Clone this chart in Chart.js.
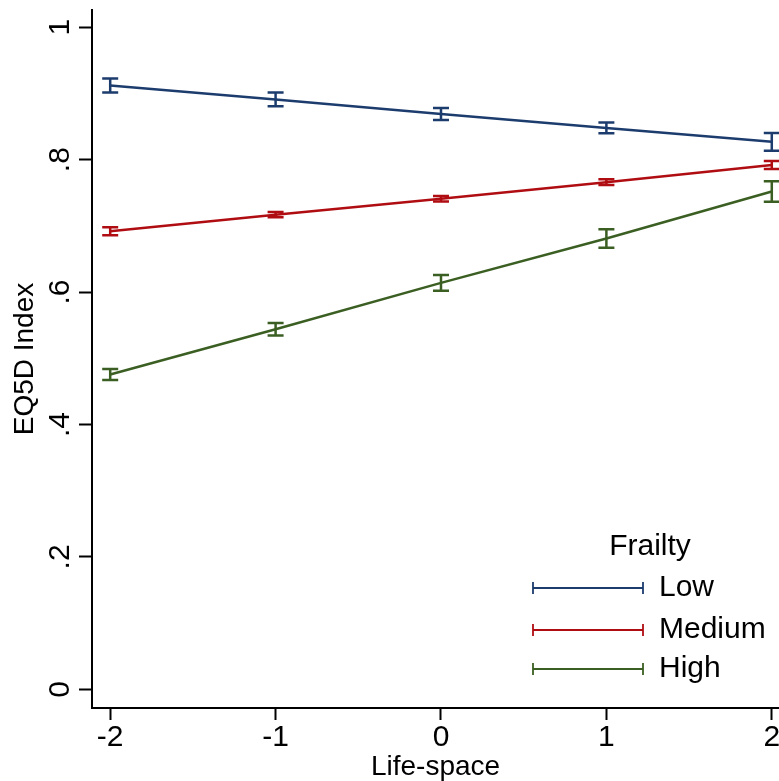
<!DOCTYPE html>
<html>
<head>
<meta charset="utf-8">
<script src="https://cdn.jsdelivr.net/npm/chart.js@4/dist/chart.umd.min.js"></script>
<style>
html,body{margin:0;padding:0;background:#fff;}
#wrap{width:779px;height:781px;position:relative;}
</style>
</head>
<body>
<div id="wrap"><canvas id="c" width="779" height="781"></canvas></div>
<script>
const lifeSpace = [-2, -1, 0, 1, 2];
const xTicks = [-2, -1, 0, 1, 2];
const yTicks = [0, 0.2, 0.4, 0.6, 0.8, 1];
const seriesNames = ['Low', 'Medium', 'High'];
const lowMean = [0.912, 0.891, 0.869, 0.848, 0.827];
const lowErr = [0.0106, 0.0104, 0.009, 0.008, 0.0134];
const medMean = [0.692, 0.717, 0.741, 0.766, 0.792];
const medErr = [0.006, 0.004, 0.004, 0.0043, 0.006];
const highMean = [0.4755, 0.544, 0.614, 0.681, 0.752];
const highErr = [0.0083, 0.0095, 0.0118, 0.014, 0.0156];
const legendTitle = 'Frailty';
const xTitle = 'Life-space';
const yTitle = 'EQ5D Index';

const colors = ['#1c3c6e', '#b00d12', '#3b5f22'];
const means = [lowMean, medMean, highMean];
const errs = [lowErr, medErr, highErr];
const FONT = "'Liberation Sans', Arial, sans-serif";

const datasets = seriesNames.map((name, i) => ({
  label: name,
  data: lifeSpace.map((x, j) => ({x: x, y: means[i][j]})),
  err: errs[i],
  borderColor: colors[i],
  backgroundColor: colors[i],
  borderWidth: 2.5,
  pointRadius: 0,
  tension: 0,
  fill: false
}));

const errorBars = {
  id: 'errorBars',
  afterDatasetsDraw(chart) {
    const ctx = chart.ctx;
    const xs = chart.scales.x, ys = chart.scales.y;
    ctx.save();
    chart.data.datasets.forEach(ds => {
      ctx.strokeStyle = ds.borderColor;
      ctx.lineWidth = 2.5;
      ds.data.forEach((p, j) => {
        const px = xs.getPixelForValue(p.x);
        const top = ys.getPixelForValue(p.y + ds.err[j]);
        const bot = ys.getPixelForValue(p.y - ds.err[j]);
        ctx.beginPath();
        ctx.moveTo(px, top); ctx.lineTo(px, bot);
        ctx.moveTo(px - 8, top); ctx.lineTo(px + 8, top);
        ctx.moveTo(px - 8, bot); ctx.lineTo(px + 8, bot);
        ctx.stroke();
      });
    });
    ctx.restore();
  }
};

const insideLegend = {
  id: 'insideLegend',
  afterDraw(chart) {
    const ctx = chart.ctx;
    ctx.save();
    ctx.fillStyle = '#000';
    ctx.font = '30px ' + FONT;
    ctx.textBaseline = 'middle';
    ctx.textAlign = 'center';
    ctx.fillText(legendTitle, 650, 547);
    ctx.textAlign = 'left';
    const rowsY = [588, 630, 669];
    chart.data.datasets.forEach((ds, i) => {
      const y = rowsY[i];
      ctx.strokeStyle = ds.borderColor;
      ctx.lineWidth = 1.8;
      ctx.beginPath();
      ctx.moveTo(533, y); ctx.lineTo(643, y);
      ctx.moveTo(533, y - 6); ctx.lineTo(533, y + 6);
      ctx.moveTo(643, y - 6); ctx.lineTo(643, y + 6);
      ctx.stroke();
      ctx.fillStyle = '#000';
      ctx.fillText(ds.label, 659, y);
    });
    ctx.restore();
  }
};

new Chart(document.getElementById('c'), {
  type: 'line',
  data: {datasets: datasets},
  options: {
    responsive: false,
    animation: false,
    events: [],
    layout: {padding: {top: 10, right: 0, bottom: 0, left: 0}},
    plugins: {legend: {display: false}, tooltip: {enabled: false}},
    scales: {
      x: {
        type: 'linear',
        min: -2.11,
        max: 2.0436,
        afterBuildTicks: s => { s.ticks = xTicks.map(v => ({value: v})); },
        afterFit: s => { s.height = 73; s.paddingLeft = 0; s.paddingRight = 0; },
        grid: {drawOnChartArea: false, drawTicks: true, tickLength: 12, tickWidth: 2, tickColor: '#000'},
        border: {display: true, color: '#000', width: 2},
        ticks: {
          color: '#000', font: {family: FONT, size: 30}, padding: 0,
          maxRotation: 0, minRotation: 0,
          callback: v => String(v)
        },
        title: {display: true, text: xTitle, color: '#000', font: {family: FONT, size: 28, lineHeight: 1.0}, padding: {top: 0, bottom: 0}}
      },
      y: {
        type: 'linear',
        min: -0.0282,
        max: 1.0261,
        afterBuildTicks: s => { s.ticks = yTicks.map(v => ({value: v})); },
        afterFit: s => { s.width = 92; s.paddingTop = 0; s.paddingBottom = 0; },
        grid: {drawOnChartArea: false, drawTicks: true, tickLength: 13, tickWidth: 2, tickColor: '#000'},
        border: {display: true, color: '#000', width: 2},
        ticks: {
          color: '#000', font: {family: FONT, size: 30}, padding: 6,
          minRotation: 90, maxRotation: 90, crossAlign: 'center',
          callback: v => {
            const r = Math.round(v * 10) / 10;
            if (r === 0) return '0';
            if (r === 1) return '1';
            return String(r).replace(/^0/, '');
          }
        },
        title: {display: true, text: yTitle, color: '#000', font: {family: FONT, size: 28, lineHeight: 1.2}, padding: {top: 8, bottom: 0}}
      }
    }
  },
  plugins: [errorBars, insideLegend]
});
</script>
</body>
</html>
